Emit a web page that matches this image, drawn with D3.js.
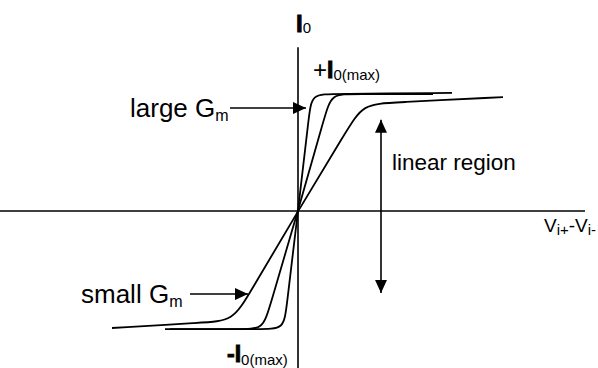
<!DOCTYPE html>
<html>
<head>
<meta charset="utf-8">
<script src="https://cdn.jsdelivr.net/npm/d3@7"></script>
<style>
  body { margin: 0; background: #fff; }
  svg { display: block; font-family: "Liberation Sans", Arial, sans-serif; }
</style>
</head>
<body>
<svg width="598" height="368"></svg>
<script>
// transfer curves, (Vi+ - Vi-, I0 / I0max)
const largeGm = [[-1.33, -1.01], [-0.36, -1.01], [-0.14, -1.01], [-0.115, -0.82], [0, 0],
                 [0.11, 0.81], [0.135, 1.0], [0.355, 1.0], [1.54, 1.01]];
const midGm   = [[-1.28, -1.01], [-0.57, -1.01], [-0.35, -1.01], [-0.287, -0.83], [0, 0],
                 [0.271, 0.82], [0.334, 1.0], [0.554, 1.0], [1.35, 1.0]];
const smallGm = [[-1.86, -1.0], [-0.95, -0.953], [-0.65, -0.94], [-0.49, -0.71], [0, 0],
                 [0.49, 0.69], [0.65, 0.915], [0.95, 0.926], [2.05, 0.974]];
const curves = [largeGm, midGm, smallGm];

const width = 598, height = 368;
const svg = d3.select('svg');

const x = d3.scaleLinear().domain([-2.98, 3.0]).range([0, width]);
const y = d3.scaleLinear().domain([-1, 1]).range([328, 94]);

// arrow head
svg.append('defs').append('marker')
    .attr('id', 'head')
    .attr('markerUnits', 'userSpaceOnUse')
    .attr('viewBox', '0 0 13 12')
    .attr('refX', 13).attr('refY', 6)
    .attr('markerWidth', 13).attr('markerHeight', 12)
    .attr('orient', 'auto-start-reverse')
  .append('path')
    .attr('d', 'M0,0L13,6L0,12Z')
    .attr('fill', '#000');

// axes
svg.append('line')
    .attr('x1', x(-2.98)).attr('x2', x(2.87))
    .attr('y1', y(0)).attr('y2', y(0))
    .attr('stroke', '#000').attr('stroke-width', 1.6);
svg.append('line')
    .attr('x1', x(0)).attr('x2', x(0))
    .attr('y1', y(1.4)).attr('y2', y(-1.4))
    .attr('stroke', '#000').attr('stroke-width', 1.6);

// curves
const line = d3.line()
    .x(d => x(d[0]))
    .y(d => y(d[1]))
    .curve(d3.curveBasis);

svg.selectAll('.curve')
    .data(curves)
    .enter()
    .append('path')
    .attr('class', 'curve')
    .attr('d', line)
    .attr('fill', 'none')
    .attr('stroke', '#000')
    .attr('stroke-width', 1.8);

// arrows
const arrow = (x1, y1, x2, y2, both) => {
    const a = svg.append('line')
        .attr('x1', x(x1)).attr('y1', y(y1))
        .attr('x2', x(x2)).attr('y2', y(y2))
        .attr('stroke', '#000').attr('stroke-width', 1.6)
        .attr('marker-end', 'url(#head)');
    if (both) a.attr('marker-start', 'url(#head)');
};
arrow(-0.68, 0.88, 0.08, 0.88);     // large Gm
arrow(-1.08, -0.71, -0.5, -0.71);   // small Gm
arrow(0.83, 0.78, 0.83, -0.7, true); // linear region

// labels
const label = (px, py, parts) => {
    const t = svg.append('text').attr('x', px).attr('y', py).attr('fill', '#000');
    parts.forEach(p => {
        const s = t.append('tspan').text(p.t).attr('font-size', p.size);
        if (p.bold) s.attr('font-weight', 'bold').attr('stroke', '#000').attr('stroke-width', 0.9);
        if (p.dy) s.attr('dy', p.dy);
    });
};

label(296, 32, [{t: 'I', size: 24, bold: true}, {t: '0', size: 15, dy: 1}]);
label(313, 78, [{t: '+', size: 24}, {t: 'I', size: 23, bold: true}, {t: '0(max)', size: 15, dy: 2}]);
label(227, 362, [{t: '-', size: 23, bold: true}, {t: 'I', size: 23, bold: true}, {t: '0(max)', size: 15, dy: 3}]);
label(130, 117, [{t: 'large G', size: 26}, {t: 'm', size: 16, dy: 4}]);
label(81, 303, [{t: 'small G', size: 26}, {t: 'm', size: 16, dy: 4}]);
label(392, 170, [{t: 'linear region', size: 22.5}]);
label(544, 232, [{t: 'V', size: 19}, {t: 'i+', size: 15, dy: 3}, {t: '-V', size: 19, dy: -3}, {t: 'i-', size: 15, dy: 3}]);
</script>
</body>
</html>
